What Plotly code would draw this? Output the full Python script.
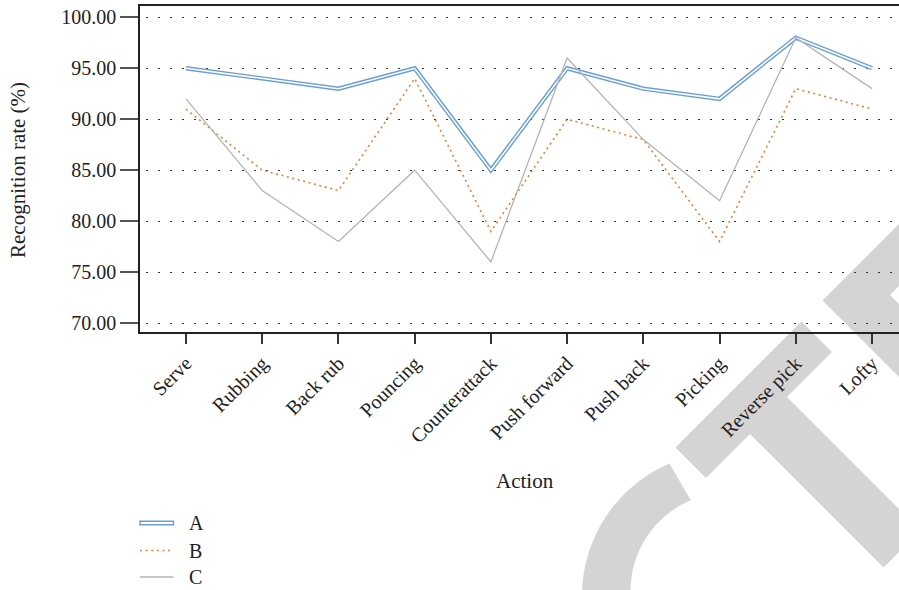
import math
import plotly.graph_objects as go

# Recognition rate per table-tennis action for three methods
actions = ["Serve", "Rubbing", "Back rub", "Pouncing", "Counterattack",
           "Push forward", "Push back", "Picking", "Reverse pick", "Lofty"]
series_a = [95, 94, 93, 95, 85, 95, 93, 92, 98, 95]
series_b = [91, 85, 83, 94, 79, 90, 88, 78, 93, 91]
series_c = [92, 83, 78, 85, 76, 96, 88, 82, 98, 93]
series_names = ["A", "B", "C"]
y_ticks = [70, 75, 80, 85, 90, 95, 100]

W, H = 899, 590
ML, MR, MT, MB = 140, 0, 6, 258
PW, PH = W - ML - MR, H - MT - MB

FONT = "'Liberation Serif', 'Times New Roman', 'DejaVu Serif', serif"
TXT = "#222222"
BLUE = "#6a9fd6"
ORANGE = "#ee7d31"
GREY = "#b4b4b4"
WM = "#d4d4d4"


def px(x, y):
    """Page pixel -> paper coordinates."""
    return (x - ML) / PW, (H - MB - y) / PH


def path_from(points):
    parts = []
    for i, (x, y) in enumerate(points):
        u, v = px(x, y)
        parts.append(("M" if i == 0 else "L") + f"{u:.5f},{v:.5f}")
    return " ".join(parts) + " Z"


fig = go.Figure()

# A: double line (blue stroke with a white core)
fig.add_trace(go.Scatter(x=actions, y=series_a, mode="lines", name=series_names[0],
                         line=dict(color=BLUE, width=4.4), showlegend=False))
fig.add_trace(go.Scatter(x=actions, y=series_a, mode="lines", hoverinfo="skip",
                         line=dict(color="white", width=1.5), showlegend=False))
# B: orange dotted
fig.add_trace(go.Scatter(x=actions, y=series_b, mode="lines", name=series_names[1],
                         line=dict(color=ORANGE, width=1.6, dash="2px,3.6px"),
                         showlegend=False))
# C: thin grey
fig.add_trace(go.Scatter(x=actions, y=series_c, mode="lines", name=series_names[2],
                         line=dict(color=GREY, width=1.3), showlegend=False))

shapes = []

# Light grey diagonal lettering in the lower right corner
t_shape = [(675.5, 447.5), (801.5, 321.5), (832, 352), (787, 397),
           (920.5, 530.5), (883.5, 567.5), (750, 434), (706, 478)]
e_shape = [(822.5, 300.5), (911.5, 211.5), (942.5, 242.5), (890, 295),
           (1047.5, 452.5), (1011, 489)]
for poly in (t_shape, e_shape):
    shapes.append(dict(type="path", xref="paper", yref="paper", layer="below",
                       path=path_from(poly), fillcolor=WM, line=dict(width=0)))

# Arc of the "C"
oc, orad = (726, 596), 144
ic, irad = (729, 591), 98.5
a0 = math.atan2(463.3 - oc[1], 669.3 - oc[0])
b0 = math.atan2(500 - ic[1], 690.7 - ic[0])
a1 = math.radians(-205)
n = 40
outer = [(oc[0] + orad * math.cos(a0 + (a1 - a0) * k / n),
          oc[1] + orad * math.sin(a0 + (a1 - a0) * k / n)) for k in range(n + 1)]
inner = [(ic[0] + irad * math.cos(b0 + (a1 - b0) * k / n),
          ic[1] + irad * math.sin(b0 + (a1 - b0) * k / n)) for k in range(n + 1)]
shapes.append(dict(type="path", xref="paper", yref="paper", layer="below",
                   path=path_from(outer + inner[::-1]), fillcolor=WM,
                   line=dict(width=0)))

# Legend drawn below the plot
leg_y = [523, 550.5, 577]
x0l, x1l = px(140, 0)[0], px(173.5, 0)[0]
u0, v0 = px(140, leg_y[0] - 1.8)
u1, v1 = px(173.5, leg_y[0] + 1.8)
shapes.append(dict(type="rect", xref="paper", yref="paper", x0=u0, x1=u1, y0=v1, y1=v0,
                   fillcolor="white", line=dict(color=BLUE, width=1.4)))
shapes.append(dict(type="line", xref="paper", yref="paper", x0=x0l, x1=x1l,
                   y0=px(0, leg_y[1])[1], y1=px(0, leg_y[1])[1],
                   line=dict(color=ORANGE, width=1.6, dash="2px,3.6px")))
shapes.append(dict(type="line", xref="paper", yref="paper", x0=x0l, x1=x1l,
                   y0=px(0, leg_y[2])[1], y1=px(0, leg_y[2])[1],
                   line=dict(color=GREY, width=1.3)))

annotations = []
for name, ly in zip(series_names, leg_y):
    u, v = px(187, ly)
    annotations.append(dict(text=name, xref="paper", yref="paper", x=u, y=v,
                            xanchor="left", yanchor="middle", showarrow=False,
                            font=dict(family=FONT, size=20, color=TXT)))

# Axis titles
u, v = px(525, 481)
annotations.append(dict(text="Action", xref="paper", yref="paper", x=u, y=v,
                        xanchor="center", yanchor="middle", showarrow=False,
                        font=dict(family=FONT, size=21, color=TXT)))
u, v = px(18, 170)
annotations.append(dict(text="Recognition rate (%)", xref="paper", yref="paper",
                        x=u, y=v, xanchor="center", yanchor="middle", textangle=-90,
                        showarrow=False, font=dict(family=FONT, size=21, color=TXT)))

fig.update_layout(
    width=W, height=H, autosize=False,
    margin=dict(l=ML, r=MR, t=MT, b=MB, pad=0),
    paper_bgcolor="white", plot_bgcolor="rgba(0,0,0,0)",
    font=dict(family=FONT, size=20, color=TXT),
    shapes=shapes, annotations=annotations, showlegend=False,
    xaxis=dict(type="category", range=[-0.6035, 9.354], showline=True,
               linecolor="#222222", linewidth=1.5, mirror=True, ticks="outside",
               ticklen=10, tickwidth=1.5, tickcolor="#333333", tickangle=-45,
               tickfont=dict(family=FONT, size=20, color=TXT), showgrid=False,
               zeroline=False),
    yaxis=dict(range=[69.12, 101.11], tickvals=y_ticks, tickformat=".2f",
               ticks="outside", ticklen=18, tickwidth=1.5, tickcolor="#555555",
               showline=True, linecolor="#222222", linewidth=1.5,
               tickfont=dict(family=FONT, size=20, color=TXT),
               showgrid=True, gridcolor="#333333", gridwidth=1.3,
               griddash="0px,6px,1.5px,4.5px", zeroline=False),
)

fig.write_html("out.html")
